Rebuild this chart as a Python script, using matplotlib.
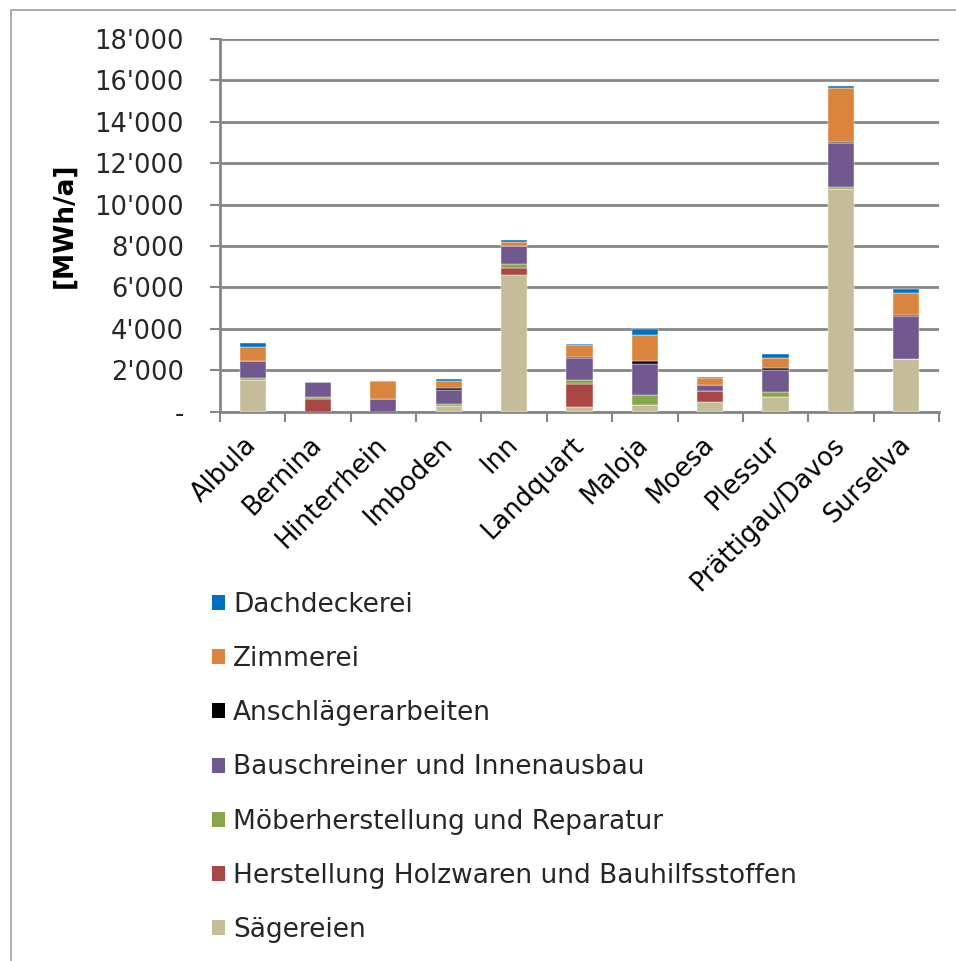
import numpy as np
import matplotlib
matplotlib.use("Agg")
import matplotlib.pyplot as plt
from matplotlib.patches import Patch, Rectangle
from matplotlib.ticker import FuncFormatter

# Regionen
regionen = ["Albula", "Bernina", "Hinterrhein", "Imboden", "Inn", "Landquart",
            "Maloja", "Moesa", "Plessur", "Prättigau/Davos", "Surselva"]

# Werte [MWh/a] pro Branche (von unten nach oben gestapelt)
saegereien  = [1550,    0,   0, 290, 6600,  230,  310, 480,  730, 10750, 2550]
herstellung = [   0,  620,   0,   0,  320, 1130,    0, 500,    0,     0,    0]
moebel      = [  60,   70,   0,  70,  210,  190,  480,   0,  210,    80,    0]
bauschrein  = [ 820,  750, 600, 680,  870, 1020, 1530, 320, 1060,  2130, 2085]
anschlaeger = [   0,    0,   0, 120,    0,   60,  130,   0,  130,    70,   50]
zimmerei    = [ 680,    0, 890, 310,  220,  600, 1245, 350,  440,  2610, 1065]
dachdecker  = [ 210,    0,   0, 100,   70,   20,  320,  30,  240,    80,  160]

serien = [
    ("Sägereien", saegereien, "#C4BD97"),
    ("Herstellung Holzwaren und Bauhilfsstoffen", herstellung, "#AA4643"),
    ("Möberherstellung und Reparatur", moebel, "#89A54E"),
    ("Bauschreiner und Innenausbau", bauschrein, "#71588F"),
    ("Anschlägerarbeiten", anschlaeger, "#000000"),
    ("Zimmerei", zimmerei, "#DB843D"),
    ("Dachdeckerei", dachdecker, "#0070C0"),
]

plt.rcParams['font.family'] = ['DejaVu Sans']

fig = plt.figure(figsize=(9.56, 9.61), dpi=100)
ax = fig.add_axes([0.2301, 0.5716, 0.7521, 0.3878])

x = np.arange(len(regionen))
unten = np.zeros(len(regionen))
for name, werte, farbe in serien:
    ax.bar(x, werte, width=0.40, bottom=unten, color=farbe,
           edgecolor="white", linewidth=0.3, zorder=3)
    unten += np.array(werte)

grau = "#868686"
ax.set_xlim(-0.5, len(regionen) - 0.5)
ax.set_ylim(0, 18000)
ax.set_yticks(np.arange(0, 18001, 2000))
ax.yaxis.set_major_formatter(FuncFormatter(
    lambda v, p: "-" if v == 0 else f"{int(v):,}".replace(",", "'")))
ax.grid(axis="y", color=grau, linewidth=2, zorder=0)
for s in ["top", "right"]:
    ax.spines[s].set_visible(False)
ax.spines["left"].set_color(grau)
ax.spines["left"].set_linewidth(2)
ax.spines["bottom"].set_color(grau)
ax.spines["bottom"].set_linewidth(2)

ax.set_xticks(np.arange(len(regionen) + 1) - 0.5, minor=False)
ax.set_xticklabels([])
ax.set_xticks(x, minor=True)
ax.set_xticklabels(regionen, minor=True, rotation=45, ha="right", va="center",
                   rotation_mode="anchor", fontsize=18.5, color="#000000")
ax.tick_params(axis="x", which="major", length=7, width=1.5, color=grau)
ax.tick_params(axis="x", which="minor", length=0, pad=21)
ax.tick_params(axis="y", length=7, width=1.5, color=grau,
               labelsize=18.5, labelcolor="#262626", pad=19)

ax.set_ylabel("[MWh/a]", fontsize=19, fontweight="bold", labelpad=12)

# Legende (umgekehrte Reihenfolge)
handles = [Patch(facecolor=f, edgecolor="none", label=n) for n, w, f in serien][::-1]
fig.legend(handles=handles, loc="upper left", bbox_to_anchor=(0.197, 0.409),
           frameon=False, fontsize=19, labelspacing=1.07,
           handlelength=0.5, handleheight=0.5, handletextpad=0.3,
           labelcolor="#262626")

# Rahmen um das Diagramm
fig.patches.append(Rectangle((11 / 956, -0.05), 1.2, 1.05 - 10 / 961,
                             transform=fig.transFigure, fill=False,
                             edgecolor="#A0A0A0", linewidth=1.2))

fig.savefig("out.png", dpi=100)
